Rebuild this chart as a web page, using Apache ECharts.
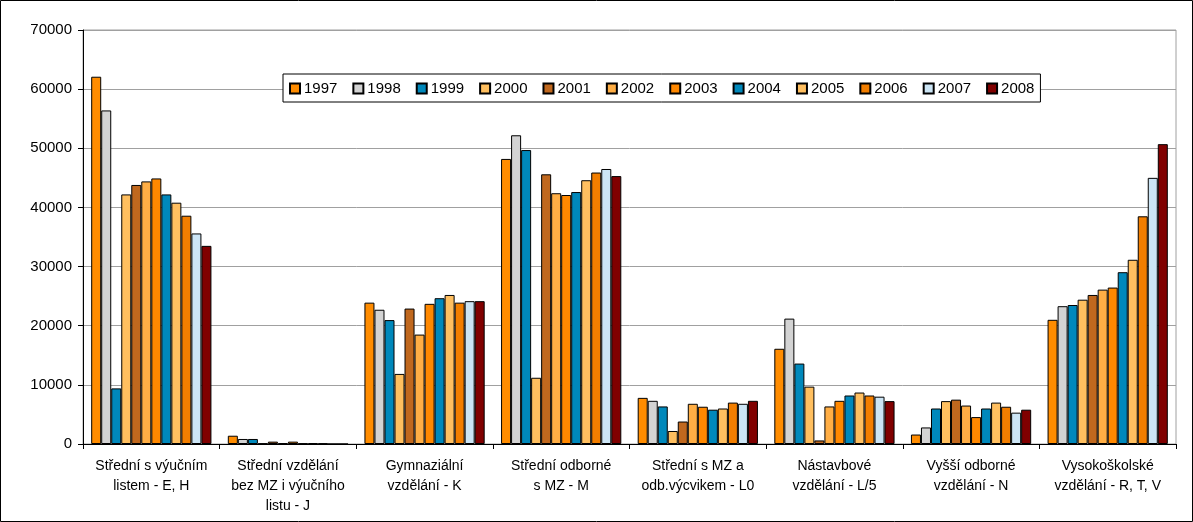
<!DOCTYPE html>
<html>
<head>
<meta charset="utf-8">
<script src="https://cdn.jsdelivr.net/npm/echarts@6/dist/echarts.min.js"></script>
<style>
    body { margin: 0; background: #fff; }
    #main { width: 1193px; height: 522px; }
</style>
</head>
<body>
<div id="main"></div>
<script>
// kategorie na ose x
var categories = [
    'Střední s výučním\nlistem - E, H',
    'Střední vzdělání\nbez MZ i výučního\nlistu - J',
    'Gymnaziální\nvzdělání - K',
    'Střední odborné\ns MZ - M',
    'Střední s MZ a\nodb.výcvikem - L0',
    'Nástavbové\nvzdělání - L/5',
    'Vyšší odborné\nvzdělání - N',
    'Vysokoškolské\nvzdělání - R, T, V'
];

var years = ['1997', '1998', '1999', '2000', '2001', '2002', '2003', '2004', '2005', '2006', '2007', '2008'];

var colors = ['#ff8c00', '#d3d3d3', '#0088bb', '#ffbf5f', '#c0681e', '#ffae45',
              '#ff8800', '#0088bb', '#ffbf60', '#f27e00', '#cce5f5', '#800000'];

// hodnoty po letech (každé pole = 8 kategorií)
var v1997 = [62100, 1400, 23900, 48200, 7800, 16100, 1600, 21000];
var v1998 = [56400, 850, 22700, 52200, 7300, 21200, 2800, 23300];
var v1999 = [9400, 850, 20950, 49700, 6350, 13600, 6000, 23500];
var v2000 = [42200, 100, 11850, 11200, 2200, 9700, 7250, 24400];
var v2001 = [43800, 400, 22900, 45600, 3800, 600, 7500, 25200];
var v2002 = [44400, 150, 18500, 42400, 6800, 6350, 6500, 26100];
var v2003 = [44900, 400, 23700, 42100, 6300, 7300, 4550, 26450];
var v2004 = [42200, 100, 24650, 42600, 5800, 8200, 6000, 29050];
var v2005 = [40800, 150, 25200, 44600, 6000, 8700, 7000, 31150];
var v2006 = [38600, 100, 23900, 45900, 7000, 8200, 6300, 38500];
var v2007 = [35600, 0, 24150, 46500, 6800, 8000, 5300, 45000];
var v2008 = [33500, 0, 24150, 45300, 7300, 7250, 5800, 50700];

var values = [v1997, v1998, v1999, v2000, v2001, v2002, v2003, v2004, v2005, v2006, v2007, v2008];

function initECharts() {
    var myChart = echarts.init(document.getElementById('main'));

    var series = years.map(function (y, i) {
        return {
            name: y,
            type: 'bar',
            data: values[i],
            barGap: '0%',
            barCategoryGap: '12%',
            itemStyle: { color: colors[i], borderColor: '#000', borderWidth: 1 },
            emphasis: { disabled: true }
        };
    });

    var option = {
        backgroundColor: '#fff',
        animation: false,
        textStyle: { fontFamily: 'Liberation Sans, Arial, sans-serif' },
        // rámeček kolem celého grafu
        graphic: [{
            type: 'rect',
            shape: { x: 0.5, y: 0.5, width: 1192, height: 521 },
            style: { fill: 'none', stroke: '#000', lineWidth: 1 },
            silent: true
        }],
        legend: {
            data: years,
            left: 283,
            top: 74,
            width: 770,
            padding: [7, 6, 6, 6],
            itemWidth: 10,
            itemHeight: 10,
            itemGap: 15,
            icon: 'rect',
            backgroundColor: '#fff',
            borderColor: '#000',
            borderWidth: 1,
            textStyle: { fontSize: 15, color: '#000', padding: [0, 0, 0, -1] }
        },
        grid: {
            left: 83,
            right: 17,
            top: 30,
            bottom: 78,
            show: true,
            borderColor: '#a0a0a0',
            borderWidth: 1
        },
        xAxis: {
            type: 'category',
            data: categories,
            axisLine: { lineStyle: { color: '#000' } },
            axisTick: { show: true, length: 5, lineStyle: { color: '#000' } },
            axisLabel: { interval: 0, fontSize: 14, lineHeight: 20, color: '#000', margin: 12 }
        },
        yAxis: {
            type: 'value',
            min: 0,
            max: 70000,
            interval: 10000,
            axisLine: { show: true, lineStyle: { color: '#000' } },
            axisTick: { show: true, length: 5, lineStyle: { color: '#000' } },
            axisLabel: {
                fontSize: 15,
                color: '#000',
                margin: 11,
                formatter: function (v) { return String(v); }  // bez oddělovačů tisíců
            },
            splitLine: { lineStyle: { color: '#a0a0a0' } }
        },
        series: series
    };

    myChart.setOption(option);
}

initECharts();
</script>
</body>
</html>
